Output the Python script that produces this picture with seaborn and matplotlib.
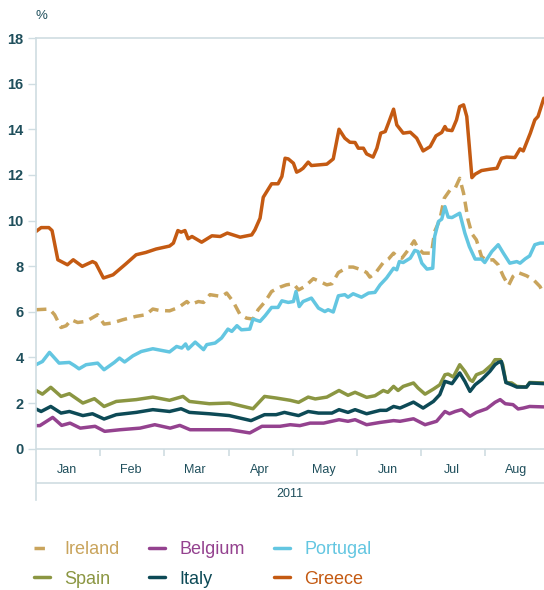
import matplotlib
matplotlib.use("Agg")
import matplotlib.pyplot as plt
import seaborn as sns
import pandas as pd
from matplotlib.lines import Line2D

# x = position in months since 1 Jan 2011 (each month drawn equally wide)
greece_x = [0.00, 0.08, 0.20, 0.25, 0.34, 0.49, 0.58, 0.72, 0.88, 0.93, 1.05, 1.20, 1.40, 1.56, 1.71, 1.87,
            2.08, 2.14, 2.21, 2.26, 2.32, 2.37, 2.43, 2.58, 2.74, 2.87, 2.98, 3.18, 3.36, 3.41, 3.49, 3.54,
            3.67, 3.77, 3.83, 3.88, 3.93, 4.01, 4.06, 4.11, 4.16, 4.24, 4.29, 4.53, 4.63, 4.72, 4.81, 4.89,
            4.97, 5.02, 5.10, 5.15, 5.25, 5.31, 5.37, 5.44, 5.49, 5.57, 5.62, 5.72, 5.83, 5.93, 6.03, 6.14,
            6.23, 6.32, 6.37, 6.40, 6.48, 6.55, 6.60, 6.66, 6.71, 6.75, 6.79, 6.84, 6.94, 7.07, 7.18, 7.25,
            7.33, 7.46, 7.54, 7.59, 7.70, 7.77, 7.82, 7.91]
greece_y = [9.52, 9.69, 9.69, 9.56, 8.28, 8.06, 8.28, 7.99, 8.20, 8.13, 7.48, 7.62, 8.10, 8.50, 8.60, 8.75,
            8.88, 9.01, 9.56, 9.49, 9.56, 9.20, 9.30, 9.05, 9.33, 9.30, 9.45, 9.27, 9.37, 9.59, 10.10, 11.02,
            11.61, 11.61, 11.93, 12.73, 12.70, 12.51, 12.12, 12.19, 12.29, 12.56, 12.41, 12.47, 12.70, 14.00, 13.61, 13.43,
            13.42, 13.17, 13.17, 12.92, 12.78, 13.17, 13.83, 13.90, 14.27, 14.88, 14.19, 13.83, 13.87, 13.61, 13.05, 13.24,
            13.71, 13.86, 14.12, 13.97, 13.94, 14.41, 14.99, 15.07, 14.56, 13.24, 11.88, 12.03, 12.19, 12.25, 12.29, 12.73,
            12.78, 12.76, 13.14, 13.05, 13.83, 14.41, 14.56, 15.36]

ireland_x = [0.00, 0.21, 0.29, 0.39, 0.47, 0.55, 0.65, 0.78, 0.96, 1.06, 1.19, 1.35, 1.56, 1.71, 1.82, 1.92,
             2.08, 2.22, 2.35, 2.40, 2.53, 2.61, 2.71, 2.89, 2.97, 3.07, 3.18, 3.28, 3.38, 3.46, 3.57, 3.67,
             3.80, 3.90, 4.01, 4.09, 4.19, 4.32, 4.42, 4.53, 4.61, 4.71, 4.86, 4.94, 5.07, 5.15, 5.20, 5.28,
             5.41, 5.49, 5.57, 5.62, 5.70, 5.80, 5.89, 5.95, 6.03, 6.16, 6.21, 6.29, 6.36, 6.45, 6.53, 6.60,
             6.66, 6.73, 6.79, 6.86, 6.94, 7.02, 7.12, 7.20, 7.28, 7.36, 7.43, 7.51, 7.64, 7.75, 7.85, 7.91]
ireland_y = [6.09, 6.12, 5.87, 5.31, 5.39, 5.65, 5.53, 5.58, 5.87, 5.46, 5.51, 5.65, 5.80, 5.87, 6.12, 6.06,
             6.04, 6.19, 6.45, 6.31, 6.45, 6.41, 6.75, 6.67, 6.82, 6.45, 5.87, 5.72, 5.68, 6.09, 6.45, 6.89,
             7.08, 7.18, 7.23, 6.96, 7.11, 7.45, 7.33, 7.18, 7.23, 7.72, 7.96, 7.96, 7.84, 7.72, 7.52, 7.67,
             8.16, 8.31, 8.57, 8.42, 8.35, 8.72, 9.11, 8.79, 8.57, 8.57, 9.52, 10.03, 10.98, 11.34, 11.42, 11.85,
             11.20, 10.03, 9.42, 9.15, 8.42, 8.25, 8.28, 8.06, 7.55, 7.15, 7.55, 7.72, 7.58, 7.40, 7.11, 6.78]

portugal_x = [0.00, 0.10, 0.21, 0.29, 0.36, 0.52, 0.60, 0.67, 0.78, 0.96, 1.06, 1.22, 1.30, 1.38, 1.51, 1.64,
              1.82, 2.08, 2.19, 2.27, 2.33, 2.37, 2.48, 2.61, 2.66, 2.79, 2.89, 2.99, 3.05, 3.13, 3.20, 3.33,
              3.38, 3.49, 3.57, 3.67, 3.77, 3.83, 3.93, 4.01, 4.05, 4.10, 4.16, 4.29, 4.40, 4.50, 4.55, 4.63,
              4.71, 4.81, 4.86, 4.94, 5.07, 5.18, 5.28, 5.36, 5.46, 5.57, 5.62, 5.66, 5.72, 5.83, 5.90, 5.95,
              6.01, 6.09, 6.18, 6.21, 6.27, 6.32, 6.37, 6.42, 6.48, 6.60, 6.68, 6.75, 6.84, 6.94, 6.99, 7.10,
              7.20, 7.28, 7.38, 7.49, 7.54, 7.62, 7.69, 7.77, 7.85, 7.91]
portugal_y = [3.68, 3.82, 4.22, 3.97, 3.75, 3.78, 3.64, 3.50, 3.68, 3.75, 3.46, 3.78, 3.97, 3.80, 4.07, 4.26,
              4.38, 4.24, 4.48, 4.41, 4.59, 4.37, 4.67, 4.34, 4.56, 4.63, 4.85, 5.24, 5.14, 5.39, 5.21, 5.24,
              5.68, 5.58, 5.83, 6.19, 6.19, 6.48, 6.41, 6.45, 6.89, 6.23, 6.45, 6.60, 6.16, 6.01, 6.09, 5.99,
              6.70, 6.75, 6.64, 6.79, 6.64, 6.82, 6.85, 7.18, 7.48, 7.91, 7.84, 8.20, 8.16, 8.35, 8.69, 8.64,
              8.13, 7.87, 7.91, 9.30, 9.96, 10.06, 10.61, 10.15, 10.13, 10.32, 9.45, 8.86, 8.31, 8.31, 8.16, 8.64,
              8.94, 8.57, 8.13, 8.20, 8.13, 8.32, 8.45, 8.94, 9.01, 9.01]

spain_x = [0.00, 0.10, 0.23, 0.39, 0.52, 0.73, 0.91, 1.06, 1.25, 1.56, 1.82, 2.08, 2.29, 2.39, 2.70, 3.01,
           3.38, 3.56, 3.74, 3.96, 4.09, 4.24, 4.35, 4.53, 4.72, 4.86, 4.97, 5.15, 5.28, 5.41, 5.48, 5.57,
           5.64, 5.72, 5.88, 5.95, 6.06, 6.19, 6.29, 6.37, 6.42, 6.50, 6.60, 6.68, 6.76, 6.80, 6.86, 6.97,
           7.10, 7.15, 7.23, 7.27, 7.32, 7.41, 7.49, 7.64, 7.69, 7.91]
spain_y = [2.55, 2.39, 2.69, 2.29, 2.41, 2.00, 2.19, 1.85, 2.07, 2.15, 2.26, 2.12, 2.29, 2.07, 1.97, 2.00,
           1.75, 2.29, 2.22, 2.12, 2.03, 2.26, 2.18, 2.26, 2.55, 2.34, 2.47, 2.25, 2.32, 2.55, 2.47, 2.73,
           2.55, 2.73, 2.88, 2.66, 2.39, 2.61, 2.80, 3.24, 3.27, 3.14, 3.68, 3.39, 3.02, 2.95, 3.24, 3.36,
           3.68, 3.90, 3.90, 3.68, 2.90, 2.88, 2.73, 2.70, 2.90, 2.88]

italy_x = [0.00, 0.08, 0.23, 0.39, 0.52, 0.73, 0.88, 1.06, 1.25, 1.56, 1.82, 2.08, 2.26, 2.39, 2.70, 3.01,
           3.35, 3.56, 3.74, 3.87, 3.96, 4.09, 4.24, 4.40, 4.61, 4.72, 4.86, 4.97, 5.15, 5.36, 5.46, 5.57,
           5.67, 5.88, 6.03, 6.19, 6.29, 6.37, 6.48, 6.60, 6.68, 6.76, 6.84, 6.94, 7.07, 7.15, 7.20, 7.25,
           7.32, 7.41, 7.49, 7.64, 7.69, 7.91]
italy_y = [1.74, 1.63, 1.85, 1.56, 1.63, 1.45, 1.53, 1.30, 1.49, 1.59, 1.71, 1.63, 1.75, 1.59, 1.53, 1.45,
           1.23, 1.49, 1.49, 1.59, 1.53, 1.45, 1.63, 1.56, 1.56, 1.71, 1.59, 1.71, 1.53, 1.68, 1.68, 1.85,
           1.78, 2.04, 1.78, 2.07, 2.37, 2.95, 2.85, 3.32, 2.95, 2.51, 2.80, 3.02, 3.39, 3.68, 3.78, 3.82,
           2.90, 2.80, 2.70, 2.70, 2.88, 2.85]

belgium_x = [0.00, 0.06, 0.26, 0.40, 0.53, 0.69, 0.92, 1.07, 1.31, 1.62, 1.85, 2.09, 2.24, 2.40, 2.71, 3.02,
             3.33, 3.52, 3.80, 3.96, 4.11, 4.27, 4.48, 4.72, 4.86, 4.97, 5.15, 5.36, 5.57, 5.67, 5.88, 6.06,
             6.24, 6.37, 6.44, 6.53, 6.63, 6.76, 6.86, 7.02, 7.15, 7.23, 7.31, 7.43, 7.51, 7.59, 7.69, 7.91]
belgium_y = [1.01, 1.01, 1.37, 1.02, 1.12, 0.90, 0.98, 0.76, 0.83, 0.90, 1.05, 0.90, 1.02, 0.83, 0.83, 0.83,
             0.69, 0.98, 0.98, 1.05, 1.01, 1.12, 1.12, 1.27, 1.20, 1.27, 1.05, 1.15, 1.23, 1.20, 1.31, 1.05,
             1.20, 1.63, 1.53, 1.63, 1.71, 1.42, 1.59, 1.75, 2.03, 2.15, 1.97, 1.93, 1.74, 1.78, 1.85, 1.83]

months = ["Jan", "Feb", "Mar", "Apr", "May", "Jun", "Jul", "Aug"]
year_label = "2011"
y_ticks = [0, 2, 4, 6, 8, 10, 12, 14, 16, 18]

series = [
    ("Ireland", ireland_x, ireland_y, "#c9a45c", (3.0, 1.9)),
    ("Spain", spain_x, spain_y, "#8b9642", None),
    ("Belgium", belgium_x, belgium_y, "#94428f", None),
    ("Italy", italy_x, italy_y, "#0d4a56", None),
    ("Portugal", portugal_x, portugal_y, "#63c6e1", None),
    ("Greece", greece_x, greece_y, "#c45a12", None),
]

sns.set_style("white")
plt.rcParams["font.family"] = ["Liberation Sans", "DejaVu Sans"]

axis_col = "#cfdde2"
text_col = "#1f4f5c"
LW = 2.5

fig = plt.figure(figsize=(5.44, 5.90), dpi=100)
ax = fig.add_axes([36 / 544, 1 - 500 / 590, 1 - 36 / 544, (500 - 38) / 590])

draw = {s[0]: s for s in series}
for name in ["Belgium", "Spain", "Italy", "Ireland", "Portugal", "Greece"]:
    nm, xs, ys, col, dash = draw[name]
    df = pd.DataFrame({"month": xs, "value": ys})
    sns.lineplot(data=df, x="month", y="value", ax=ax, color=col, lw=LW,
                 estimator=None, sort=False, legend=False,
                 **({"linestyle": (0, dash)} if dash else {}))

ax.set_xlim(0, 7.913)
ax.set_ylim(-2.25, 18)
ax.set_xlabel("")
ax.set_ylabel("")
ax.set_yticks(y_ticks)
ax.set_yticklabels([str(t) for t in y_ticks], color=text_col, fontsize=10.5, fontweight="bold")
ax.set_xticks([])
ax.tick_params(axis="y", length=6, width=1, color=axis_col, pad=3, left=True)

for side in ["right", "bottom"]:
    ax.spines[side].set_visible(False)
for side in ["left", "top"]:
    ax.spines[side].set_color(axis_col)
    ax.spines[side].set_linewidth(1.2)

ax.axhline(0, color=axis_col, lw=1.2, zorder=0)
ax.axhline(-1.49, color=axis_col, lw=1.2, zorder=0)
ax.vlines(range(1, len(months)), -0.33, 0, color=axis_col, lw=1.2)
for i, m in enumerate(months):
    ax.text(i + 0.48, -0.92, m, ha="center", va="center", color=text_col, fontsize=9)
ax.text(len(months) / 2 - 0.04, -2.0, year_label, ha="center", va="center", color=text_col, fontsize=9)

fig.text(41 / 544, 1 - 16 / 590, "%", ha="center", va="center", color=text_col, fontsize=9.5)

handles = []
labels = []
for nm, xs, ys, col, dash in series:
    handles.append(Line2D([0], [0], color=col, lw=LW,
                          linestyle=(0, dash) if dash else "-"))
    labels.append(nm)
leg = fig.legend(handles, labels, ncol=3, loc="upper left",
                 bbox_to_anchor=(34 / 544, 1 - 541 / 590), frameon=False, borderpad=0,
                 borderaxespad=0,
                 prop={"size": 13}, labelcolor="linecolor", handlelength=0.9,
                 handletextpad=0.8, columnspacing=1.6, labelspacing=0.7)

fig.savefig("out.png", dpi=100)
